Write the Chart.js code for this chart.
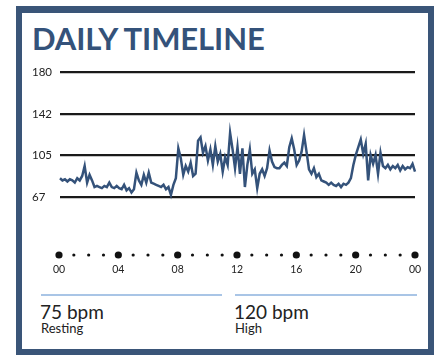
<!DOCTYPE html>
<html>
<head>
<meta charset="utf-8">
<script src="https://cdn.jsdelivr.net/npm/chart.js@4/dist/chart.umd.min.js"></script>
<style>
  body { margin: 0; background: #fff; font-family: Lato, sans-serif; }
  #page { position: relative; width: 434px; height: 355px; overflow: hidden; }
  #frame { position: absolute; left: 16px; top: 6px; width: 418px; height: 349px; box-sizing: border-box;
           border: 6px solid #3a5578; border-top-width: 7px; }
  #title { position: absolute; left: 32px; top: 19px; font: 700 31px Lato, sans-serif; color: #34527a; letter-spacing: -0.1px; }
  #plot { position: absolute; left: 22px; top: 60px; }
  #hours { position: absolute; left: 22px; top: 246px; }
  .rule { position: absolute; top: 294px; height: 2px; background: #a9c5e6; }
  .big { position: absolute; top: 300px; font: 400 19px Lato, sans-serif; color: #222; }
  .small { position: absolute; top: 320px; font: 400 13px Lato, sans-serif; color: #222; }
</style>
</head>
<body>
<div id="page">
  <div id="frame"></div>
  <div id="title">DAILY TIMELINE</div>
  <canvas id="plot" width="408" height="150"></canvas>
  <canvas id="hours" width="408" height="40"></canvas>
  <div class="rule" style="left:41px;width:181px"></div>
  <div class="rule" style="left:235px;width:182px"></div>
  <div class="big" style="left:40px">75 bpm</div>
  <div class="small" style="left:41px">Resting</div>
  <div class="big" style="left:234px">120 bpm</div>
  <div class="small" style="left:235px">High</div>
</div>
<script>
// heart rate sampled every 10 minutes, 00:00 -> 24:00
const sampleMinutes = 10;
const bpm = [
  84, 82, 83, 81, 83, 82, 80, 84, 82, 86, 95,
  80, 87, 82, 76, 77, 76,
  75, 77, 76, 80, 76, 75, 77, 75, 74, 78, 73, 75, 71, 74, 89,
  82, 78, 87, 80, 89, 80,
  79, 78, 77, 76, 78, 74, 76, 69,
  78, 84,
  111, 102, 87, 95, 90, 98, 86, 88, 118, 121,
  107, 113, 100, 110, 96, 113, 99, 106, 90, 103,
  96, 125, 110, 93, 112, 88, 111, 76, 96, 110,
  88, 92, 75, 88, 92, 86, 93, 109, 99, 94,
  93, 93, 96, 98, 95, 112, 120, 110, 96, 100,
  108, 123, 108, 92, 88, 93, 85, 88, 82, 81,
  80, 78, 80, 78, 77, 79, 76, 79, 78, 80,
  84, 96, 105, 112, 119, 106, 115, 82, 105, 97,
  105, 88, 107, 95, 93, 96, 92, 95, 93, 96,
  91, 95, 92, 94, 93, 97, 90
];
const bpmTicks = [67, 105, 142, 180];
const hourMarks = [0, 1, 2, 3, 4, 5, 6, 7, 8, 9, 10, 11, 12, 13, 14, 15, 16, 17, 18, 19, 20, 21, 22, 23, 24];
const hourLabels = ['00', '04', '08', '12', '16', '20', '00'];

const lineColor = '#34527a';

//grafico de la linea
new Chart(document.getElementById('plot'), {
  type: 'line',
  data: {
    datasets: [{
      data: bpm.map((v, i) => ({x: i * sampleMinutes / 60, y: v})),
      borderColor: lineColor,
      borderWidth: 2.5,
      pointRadius: 0,
      tension: 0,
      clip: false
    }]
  },
  options: {
    responsive: false,
    animation: false,
    layout: {padding: {left: 10, top: 12, right: 15, bottom: 13}},
    plugins: {legend: {display: false}, tooltip: {enabled: false}},
    scales: {
      x: {type: 'linear', min: 0, max: 24, display: false},
      y: {
        min: bpmTicks[0], max: bpmTicks[bpmTicks.length - 1],
        afterBuildTicks: s => { s.ticks = bpmTicks.map(v => ({value: v})); },
        afterFit: s => { s.width = 28; },
        border: {display: false},
        grid: {color: '#1a1a1a', lineWidth: 2.2, drawTicks: false},
        ticks: {crossAlign: 'far', padding: 0, color: '#222', font: {family: 'Lato', size: 11.5}}
      }
    }
  }
});

//eje de horas con puntos
new Chart(document.getElementById('hours'), {
  type: 'scatter',
  data: {
    datasets: [{
      data: hourMarks.map(h => ({x: h, y: 0})),
      backgroundColor: '#111',
      borderWidth: 0,
      pointRadius: hourMarks.map(h => h % 4 === 0 ? 3.6 : 1.6),
      clip: false
    }]
  },
  options: {
    responsive: false,
    animation: false,
    layout: {padding: {left: 37, right: 15, top: 0, bottom: 0}},
    plugins: {legend: {display: false}, tooltip: {enabled: false}},
    scales: {
      y: {min: -1, max: 1, display: false},
      x: {
        type: 'linear', min: 0, max: 24,
        afterBuildTicks: s => { s.ticks = hourLabels.map((t, i) => ({value: i * 4})); },
        afterFit: s => { s.height = 26; },
        border: {display: false},
        grid: {display: false, drawTicks: false},
        ticks: {
          padding: 3, color: '#222', maxRotation: 0, autoSkip: false,
          font: {family: 'Lato', size: 10.5},
          callback: (v, i) => hourLabels[i]
        }
      }
    }
  }
});
</script>
</body>
</html>
